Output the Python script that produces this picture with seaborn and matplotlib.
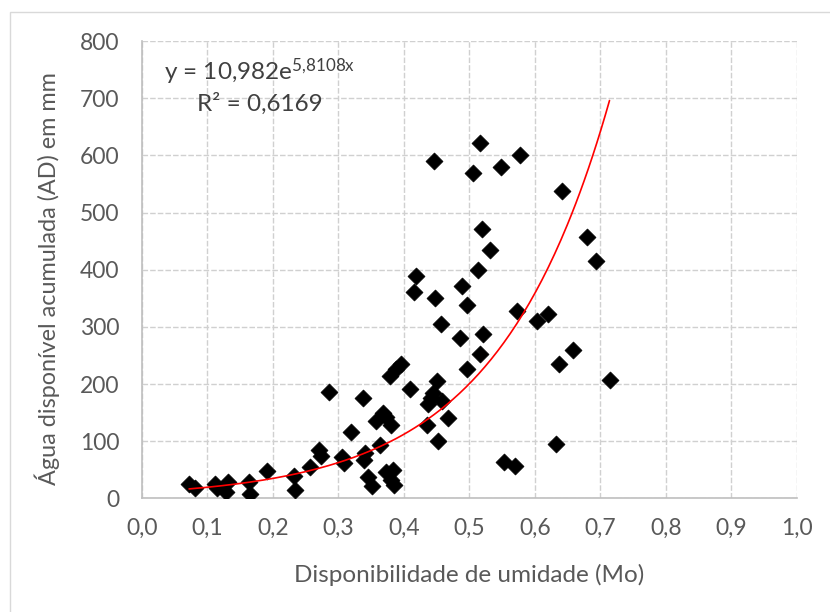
import numpy as np
import pandas as pd
import matplotlib
matplotlib.use("Agg")
import matplotlib.pyplot as plt
import seaborn as sns
from matplotlib.patches import Rectangle

# =====================================================
# DATA
# =====================================================

mo = [
    0.072, 0.081, 0.111, 0.115, 0.131, 0.129, 0.163, 0.165, 0.191, 0.232,
    0.234, 0.256, 0.271, 0.274, 0.286, 0.305, 0.309, 0.319, 0.338, 0.339,
    0.341, 0.345, 0.351, 0.358, 0.364, 0.368, 0.372, 0.372, 0.380, 0.381,
    0.384, 0.385, 0.379, 0.388, 0.395, 0.410, 0.415, 0.418, 0.435, 0.437,
    0.442, 0.445, 0.450, 0.446, 0.448, 0.456, 0.452, 0.458, 0.467, 0.485,
    0.488, 0.496, 0.496, 0.506, 0.513, 0.516, 0.519, 0.516, 0.521, 0.531,
    0.549, 0.553, 0.569, 0.573, 0.577, 0.604, 0.620, 0.632, 0.637, 0.641,
    0.658, 0.680, 0.694, 0.714,
]

ad = [
    26, 18, 26, 18, 28, 12, 28, 8, 48, 40,
    15, 55, 84, 74, 187, 72, 62, 117, 176, 67,
    80, 38, 21, 135, 94, 150, 142, 47, 33, 128,
    50, 24, 215, 226, 236, 191, 361, 389, 129, 165,
    176, 185, 206, 590, 350, 305, 100, 170, 141, 280,
    371, 339, 226, 570, 399, 622, 472, 252, 288, 434,
    580, 63, 56, 328, 601, 310, 322, 95, 235, 538,
    259, 458, 416, 207,
]

trend_a = 10.982
trend_b = 5.8108
r_squared = "0,6169"

x_ticks = [0.0, 0.1, 0.2, 0.3, 0.4, 0.5, 0.6, 0.7, 0.8, 0.9, 1.0]
x_tick_labels = ["0,0", "0,1", "0,2", "0,3", "0,4", "0,5", "0,6", "0,7", "0,8", "0,9", "1,0"]
y_ticks = [0, 100, 200, 300, 400, 500, 600, 700, 800]

df = pd.DataFrame({"mo": mo, "ad": ad})

# exponential trendline (Excel style) over the data range
x_fit = np.linspace(df["mo"].min(), df["mo"].max(), 200)
trend = pd.DataFrame({"mo": x_fit, "ad": trend_a * np.exp(trend_b * x_fit)})

# =====================================================
# STYLE
# =====================================================

sns.set_theme(style="white")
plt.rcParams["font.family"] = ["Lato", "DejaVu Sans"]
plt.rcParams["mathtext.default"] = "regular"

grey_text = "#595959"
grid_col = "#d0d0d0"

fig = plt.figure(figsize=(8.3, 6.12), dpi=100)

# chart area frame
fig.patches.append(
    Rectangle((10 / 830, -0.1), 1.0, 1.1 - 12 / 612,
              transform=fig.transFigure, fill=False,
              edgecolor="#d9d9d9", linewidth=1.0)
)

ax = fig.add_axes([0.171, 0.1855, 0.789, 0.7475])

# =====================================================
# PLOT
# =====================================================

sns.scatterplot(
    data=df,
    x="mo",
    y="ad",
    marker="D",
    s=75,
    color="black",
    edgecolor="black",
    linewidth=0.5,
    ax=ax,
    zorder=3
)

sns.lineplot(
    data=trend,
    x="mo",
    y="ad",
    color="red",
    linewidth=1.2,
    ax=ax,
    zorder=4
)

ax.set_xlim(0, 1.0)
ax.set_ylim(0, 800)
ax.set_xticks(x_ticks)
ax.set_xticklabels(x_tick_labels)
ax.set_yticks(y_ticks)

ax.tick_params(axis="both", length=0, labelsize=16.5, colors=grey_text)
ax.tick_params(axis="x", pad=14)
ax.tick_params(axis="y", pad=16)

ax.grid(True, color=grid_col, linestyle=(0, (4, 1.5)), linewidth=1.0)
ax.set_axisbelow(True)

for side in ["top", "right"]:
    ax.spines[side].set_visible(False)
for side in ["left", "bottom"]:
    ax.spines[side].set_color("#bfbfbf")
    ax.spines[side].set_linewidth(1.2)

ax.set_xlabel("Disponibilidade de umidade (Mo)", fontsize=17.5, color=grey_text, labelpad=18)
ax.set_ylabel("Água disponível acumulada (AD) em mm", fontsize=16.8, color=grey_text, labelpad=6)
ax.yaxis.set_label_coords(-0.125, 0.48)

ax.text(0.18, 746, r"y = 10,982e$^{5{,}8108x}$", ha="center", va="center",
        fontsize=17.5, color="#404040")
ax.text(0.18, 691, "R² = " + r_squared, ha="center", va="center",
        fontsize=17.5, color="#404040")

fig.savefig("out.png", dpi=100)
